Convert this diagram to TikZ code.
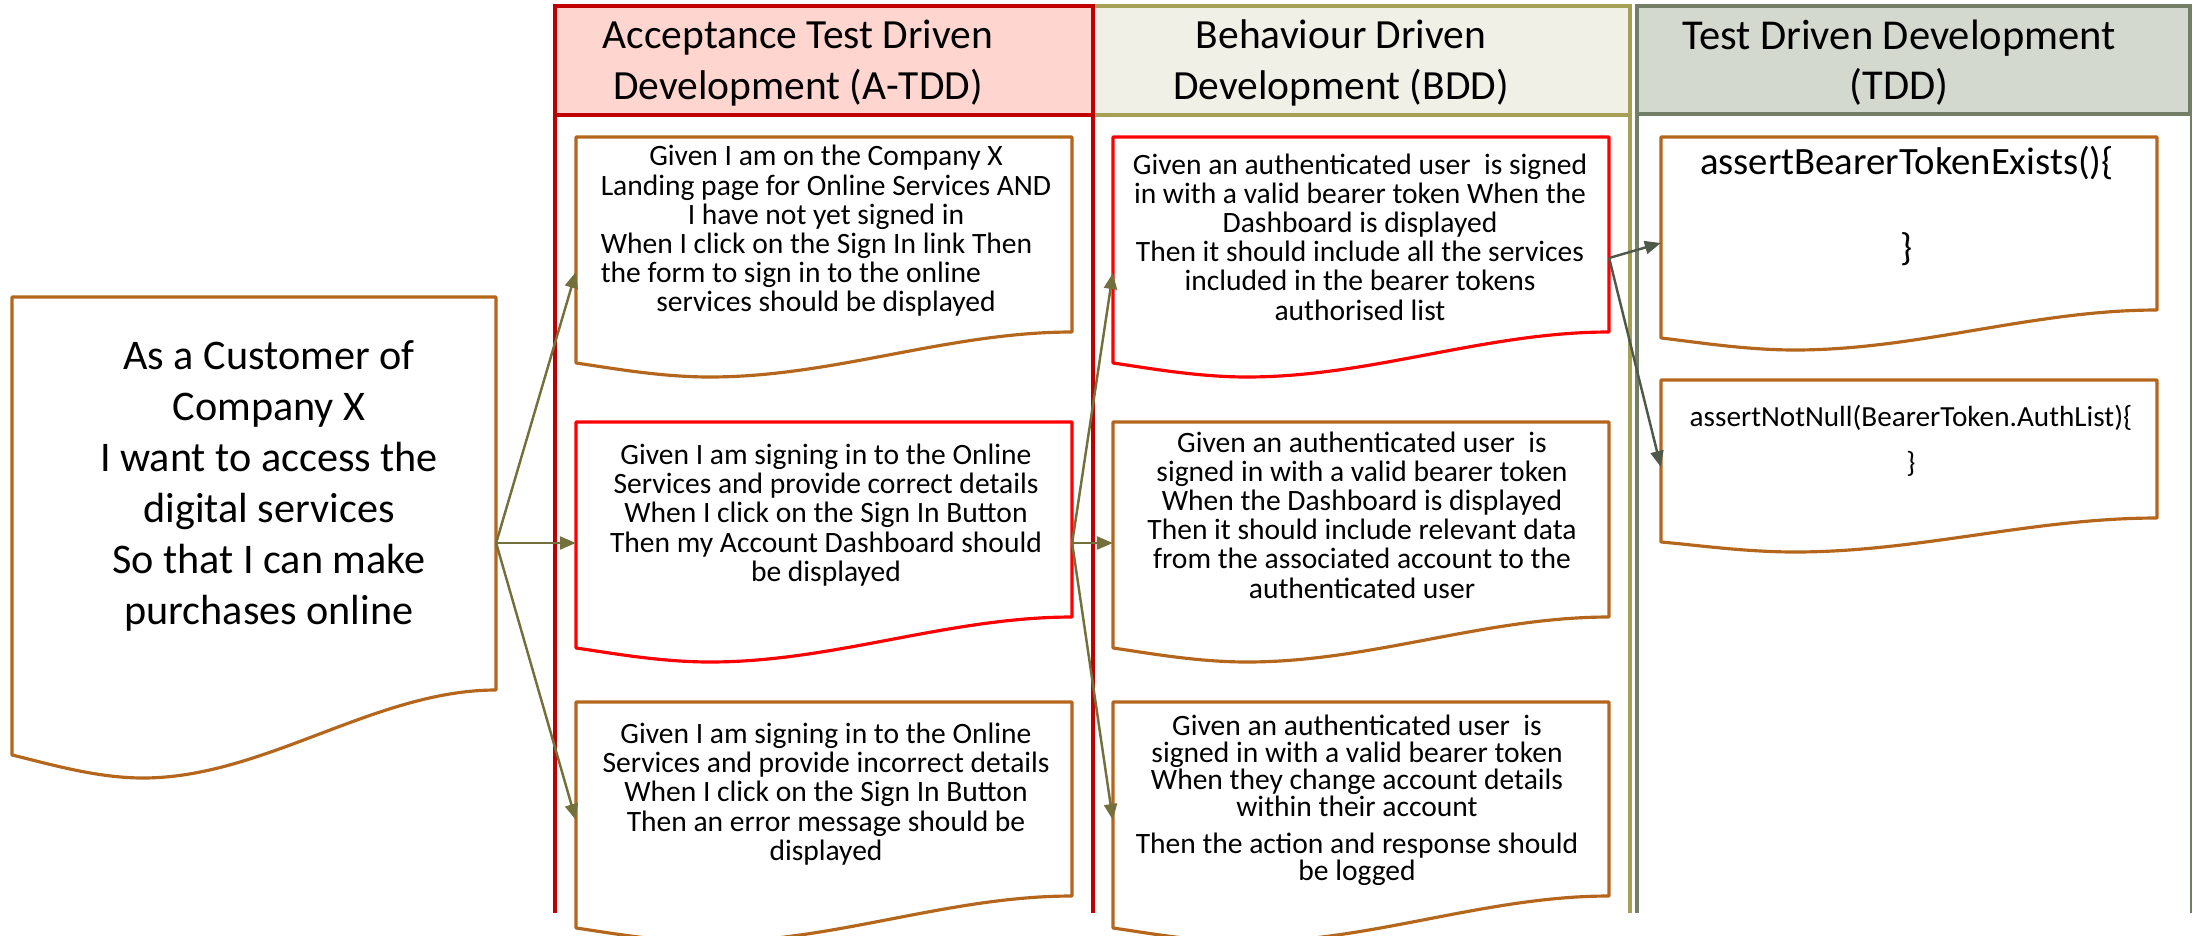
\documentclass[tikz,border=0pt]{standalone}
\usepackage{fontspec}
\setmainfont{Carlito}
\usetikzlibrary{arrows.meta}
\definecolor{atddline}{HTML}{C00000}
\definecolor{atddfill}{HTML}{FFD5CF}
\definecolor{bddline}{HTML}{A5A055}
\definecolor{bddfill}{HTML}{F1F0E6}
\definecolor{tddline}{HTML}{727E65}
\definecolor{tddfill}{HTML}{D3D9CE}
\definecolor{docbrown}{HTML}{B4661C}
\definecolor{docred}{HTML}{FF0000}
\definecolor{linkolive}{HTML}{74703C}
\definecolor{linkgray}{HTML}{4F594A}
\setlength{\lineskiplimit}{-10pt}

\begin{document}
\begin{tikzpicture}[x=0.01cm,y=-0.01cm,
  hdr/.style={font=\fontsize{11.8}{14.3}\selectfont,align=center,inner sep=0pt},
  story/.style={font=\fontsize{12}{14.5}\selectfont,align=center,inner sep=0pt},
  spec/.style={font=\fontsize{8.4}{8.3}\selectfont,align=center,inner sep=0pt},
  code/.style={font=\fontsize{11}{13.2}\selectfont,align=center,inner sep=0pt},
  smallcode/.style={font=\fontsize{8.3}{9.5}\selectfont,align=center,inner sep=0pt},
  boxarea/.style={rectangle,inner sep=0pt,outer sep=0pt,minimum width=4.96cm},
  brownbox/.style={draw=docbrown,line width=0.9pt,line join=round,fill=white},
  redbox/.style={draw=docred,line width=0.9pt,line join=round,fill=white},
  link/.style={draw=linkolive,line width=0.7pt,-{Triangle[length=0.16cm,width=0.13cm]}},
  link2/.style={draw=linkgray,line width=0.7pt,-{Triangle[length=0.16cm,width=0.13cm]}}]
  \useasboundingbox (0,0) rectangle (2193,936);

  % BDD column
  \filldraw[draw=bddline,fill=bddfill,line width=1.4pt] (1093,6) rectangle (1630,115);
  \draw[bddline,line width=1.4pt] (1630,115) -- (1630,913);

  % A-TDD column
  \filldraw[draw=atddline,fill=atddfill,line width=1.4pt] (555,6) rectangle (1093,115);
  \draw[atddline,line width=1.4pt] (555,115) -- (555,913) (1093,115) -- (1093,913);

  % TDD column
  \filldraw[draw=tddline,fill=tddfill,line width=1.4pt] (1637,6) rectangle (2190,114);
  \draw[tddline,line width=1.4pt] (1637,114) -- (1637,913);
  \draw[tddline,line width=0.5pt] (2191,114) -- (2191,913);

  \node[hdr] (hA) at (798,63) {Acceptance Test Driven\\Development (A-TDD)};
  \node[hdr] (hB) at (1341,63) {Behaviour Driven\\Development (BDD)};
  \node[hdr,font=\fontsize{12.1}{14.3}\selectfont] (hT) at (1899,63) {Test Driven Development\\(TDD)};

  % User story
  \draw[brownbox] (12,297) -- (496,297) -- (496,690) .. controls (375,690) and (264,778) .. (143,778) .. controls (95,778) and (46,763) .. (12,755) -- cycle;
  \node[boxarea,minimum width=4.84cm,minimum height=4.92cm] (cust) at (254,543) {};
  \node[story] (custtxt) at (269,486) {As a Customer of\\Company X\\I want to access the\\digital services\\So that I can make\\purchases online};

  % A-TDD scenarios
  \draw[brownbox] (576,137) -- (1072,137) -- (1072,332) .. controls (948,332) and (834,377) .. (710,377) .. controls (660,377) and (611,368) .. (576,363) -- cycle;
  \node[boxarea,minimum height=2.70cm] (a1) at (824,272) {};
  \node[spec] (a1txt) at (826,231) {Given I am on the Company X\\Landing page for Online Services AND\\I have not yet signed in\\\rlap{When I click on the Sign In link Then}\phantom{Landing page for Online Services AND}\\\rlap{the form to sign in to the online}\phantom{Landing page for Online Services AND}\\services should be displayed};

  \draw[redbox] (576,422) -- (1072,422) -- (1072,617) .. controls (948,617) and (834,662) .. (710,662) .. controls (660,662) and (611,653) .. (576,648) -- cycle;
  \node[boxarea,minimum height=2.42cm] (a2) at (824,543) {};
  \node[spec] (a2txt) at (826,515) {Given I am signing in to the Online\\Services and provide correct details\\When I click on the Sign In Button\\Then my Account Dashboard should\\be displayed};

  \draw[brownbox] (576,702) -- (1072,702) -- (1072,896) .. controls (948,896) and (834,942) .. (710,942) .. controls (660,942) and (611,933) .. (576,928) -- cycle;
  \node[boxarea,minimum height=2.36cm] (a3) at (824,820) {};
  \node[spec] (a3txt) at (826,794) {Given I am signing in to the Online\\Services and provide incorrect details\\When I click on the Sign In Button\\Then an error message should be\\displayed};

  % BDD scenarios
  \draw[redbox] (1113,137) -- (1609,137) -- (1609,332) .. controls (1485,332) and (1371,377) .. (1247,377) .. controls (1197,377) and (1148,368) .. (1113,363) -- cycle;
  \node[boxarea,minimum height=2.42cm] (b1) at (1361,258) {};
  \node[spec] (b1txt) at (1360,237) {Given an authenticated user\ \ is signed\\in with a valid bearer token When the\\Dashboard is displayed\\Then it should include all the services\\included in the bearer tokens\\authorised list};

  \draw[brownbox] (1113,422) -- (1609,422) -- (1609,617) .. controls (1485,617) and (1371,662) .. (1247,662) .. controls (1197,662) and (1148,653) .. (1113,648) -- cycle;
  \node[boxarea,minimum height=2.42cm] (b2) at (1361,543) {};
  \node[spec] (b2txt) at (1362,515) {Given an authenticated user\ \ is\\signed in with a valid bearer token\\When the Dashboard is displayed\\Then it should include relevant data\\from the associated account to the\\authenticated user};

  \draw[brownbox] (1113,702) -- (1609,702) -- (1609,896) .. controls (1485,896) and (1371,942) .. (1247,942) .. controls (1197,942) and (1148,933) .. (1113,928) -- cycle;
  \node[boxarea,minimum height=2.36cm] (b3) at (1361,820) {};
  \node[spec,font=\fontsize{8.4}{7.7}\selectfont] (b3txt) at (1357,800) {Given an authenticated user\ \ is\\signed in with a valid bearer token\\When they change account details\\within their account\\[2.7pt]Then the action and response should\\be logged};

  % TDD tests
  \draw[brownbox] (1661,137) -- (2157,137) -- (2157,310) .. controls (2033,310) and (1919,350) .. (1795,350) .. controls (1745,350) and (1696,342) .. (1661,338) -- cycle;
  \node[boxarea,minimum height=2.12cm] (t1) at (1909,243) {};
  \node[code] (t1txt) at (1907,206) {assertBearerTokenExists()\{\\[0.39cm]\}};

  \draw[brownbox] (1661,380) -- (2157,380) -- (2157,518) .. controls (2033,518) and (1919,552) .. (1795,552) .. controls (1745,552) and (1696,545) .. (1661,542) -- cycle;
  \node[boxarea,minimum height=1.74cm] (t2) at (1909,467) {};
  \node[smallcode] (t2txt) at (1911,441) {assertNotNull(BearerToken.AuthList)\{\\[0.13cm]\}};

  % Arrows
  \draw[link] (cust.east) -- (a1.west);
  \draw[link] (cust.east) -- (a2.west);
  \draw[link] (cust.east) -- (a3.west);
  \draw[link] (a2.east) -- ([yshift=-0.15cm]b1.west);
  \draw[link] (a2.east) -- (b2.west);
  \draw[link] (a2.east) -- (b3.west);
  \draw[link2] (b1.east) -- (t1.west);
  \draw[link2] (b1.east) -- (t2.west);
\end{tikzpicture}
\end{document}
